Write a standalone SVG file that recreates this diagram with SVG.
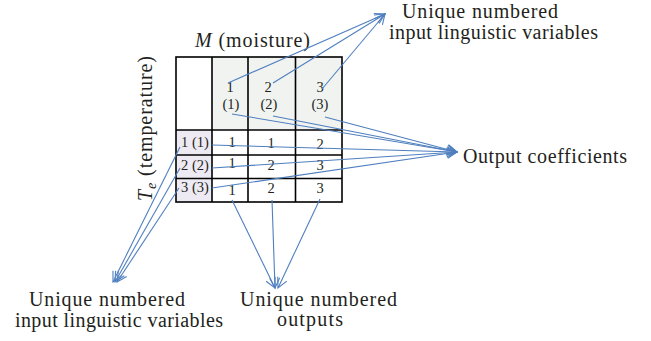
<svg xmlns="http://www.w3.org/2000/svg" width="651" height="341" viewBox="0 0 651 341">
<style>
text{font-family:"Liberation Serif","Times New Roman",serif;fill:#231f20}
.lbl{font-size:20px}
.num{font-size:14.5px;text-anchor:middle}
.grid{fill:none;stroke:#000;stroke-width:1.6}
.conn line{stroke:#4f7fbf;stroke-width:1.1;marker-end:url(#chev)}
</style>
<defs>
<marker id="chev" markerUnits="userSpaceOnUse" markerWidth="14" markerHeight="14" refX="11" refY="6" orient="auto" viewBox="0 0 14 12">
<path d="M1,1 L11,6 L1,11" fill="none" stroke="#4f7fbf" stroke-width="1.1"/>
</marker>
</defs>
<rect width="651" height="341" fill="#fff"/>
<g id="table">
<rect x="212" y="57" width="130" height="73" fill="#f0f3f0"/>
<rect x="176" y="130" width="36" height="72" fill="#eeeaf3"/>
<rect x="176" y="57" width="166" height="145" class="grid"/>
<line x1="212" y1="57" x2="212" y2="202" class="grid"/>
<line x1="248" y1="57" x2="248" y2="202" class="grid"/>
<line x1="295.5" y1="57" x2="295.5" y2="202" class="grid"/>
<line x1="176" y1="130" x2="342" y2="130" class="grid"/>
<line x1="176" y1="155" x2="342" y2="155" class="grid"/>
<line x1="176" y1="178.5" x2="342" y2="178.5" class="grid"/>
</g>
<g id="axis-m"><text x="195" y="47" class="lbl" textLength="115" lengthAdjust="spacing"><tspan font-style="italic">M</tspan> (moisture)</text></g>
<g id="axis-t"><text transform="translate(152,201) rotate(-90)" class="lbl" textLength="145" lengthAdjust="spacing"><tspan font-style="italic">T</tspan><tspan font-style="italic" font-size="14" dy="4">e</tspan><tspan dy="-4"> (temperature)</tspan></text></g>
<g id="header">
<text x="230" y="92" class="num">1</text><text x="231" y="109" class="num">(1)</text>
<text x="268" y="92" class="num">2</text><text x="269" y="109" class="num">(2)</text>
<text x="320" y="92" class="num">3</text><text x="320" y="109" class="num">(3)</text>
</g>
<g id="rows">
<text x="195" y="147" class="num">1 (1)</text>
<text x="195" y="170" class="num">2 (2)</text>
<text x="195" y="192" class="num">3 (3)</text>
</g>
<g id="cells">
<text x="232" y="147" class="num">1</text><text x="271" y="148" class="num">1</text><text x="320" y="149" class="num">2</text>
<text x="232" y="168" class="num">1</text><text x="271" y="170" class="num">2</text><text x="320" y="170" class="num">3</text>
<text x="232" y="195" class="num">1</text><text x="271" y="193" class="num">2</text><text x="320" y="193" class="num">3</text>
</g>
<g id="label-top"><text x="402" y="18" class="lbl" textLength="156" lengthAdjust="spacing">Unique numbered</text><text x="389" y="39" class="lbl" textLength="209" lengthAdjust="spacing">input linguistic variables</text></g>
<g id="label-out"><text x="463" y="163" class="lbl" textLength="164" lengthAdjust="spacing">Output coefficients</text></g>
<g id="label-bl"><text x="29" y="306" class="lbl" textLength="156" lengthAdjust="spacing">Unique numbered</text><text x="15" y="327" class="lbl" textLength="208" lengthAdjust="spacing">input linguistic variables</text></g>
<g id="label-bc"><text x="240" y="306" class="lbl" textLength="157" lengthAdjust="spacing">Unique numbered</text><text x="277" y="326" class="lbl" textLength="66" lengthAdjust="spacing">outputs</text></g>
<g id="connectors" class="conn">
<line x1="228" y1="83" x2="385" y2="14"/>
<line x1="273" y1="83" x2="385" y2="14"/>
<line x1="322" y1="89" x2="385" y2="14"/>
<line x1="232" y1="114" x2="457" y2="152"/>
<line x1="273" y1="116" x2="457" y2="152"/>
<line x1="325" y1="117" x2="457" y2="152"/>
<line x1="212" y1="145" x2="457" y2="152"/>
<line x1="212" y1="168" x2="457" y2="152"/>
<line x1="212" y1="188" x2="457" y2="152"/>
<line x1="180" y1="147" x2="113" y2="282"/>
<line x1="180" y1="168" x2="115" y2="282"/>
<line x1="179" y1="188" x2="117" y2="282"/>
<line x1="232" y1="200" x2="275" y2="288"/>
<line x1="272" y1="200" x2="275" y2="288"/>
<line x1="320" y1="199" x2="278" y2="288"/>
</g>
</svg>
